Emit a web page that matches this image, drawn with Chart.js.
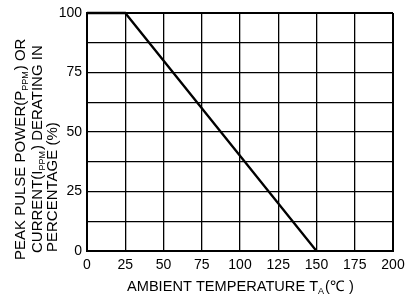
<!DOCTYPE html>
<html>
<head>
<meta charset="utf-8">
<script src="https://cdn.jsdelivr.net/npm/chart.js@4/dist/chart.umd.min.js"></script>
<style>
  html, body { margin: 0; padding: 0; background: #fff; }
  #wrap { width: 406px; height: 294px; position: relative; }
</style>
</head>
<body>
<div id="wrap"><canvas id="deratingChart"></canvas></div>
<script>
// derating curve
const tempC = [0, 25, 150];
const deratingPct = [100, 100, 0];

const xTicks = [0, 25, 50, 75, 100, 125, 150, 175, 200];
const yTicks = [0, 25, 50, 75, 100];

const FONT = "'Liberation Sans', Arial, sans-serif";

// titles have subscripts, so draw them by hand
const yTitleLines = [
  { x: 25, y: 260, parts: [["PEAK PULSE POWER(P"], ["PPM", true], [") OR"]] },
  { x: 42, y: 253, parts: [["CURRENT(I"], ["PPM", true], [") DERATING IN"]] },
  { x: 57, y: 252, parts: [["PERCENTAGE (%)"]] },
];
const xTitle = { x: 127, y: 291, size: 14.6, parts: [["AMBIENT TEMPERATURE T"], ["A", true], ["(\u2103 )"]] };

function drawParts(ctx, parts, size) {
  let pos = 0;
  parts.forEach(([txt, sub]) => {
    ctx.font = sub ? "9px " + FONT : (size || 15) + "px " + FONT;
    ctx.fillText(txt, pos, sub ? 3 : 0);
    pos += ctx.measureText(txt).width + (sub ? 1 : 0);
  });
}

const axisTitles = {
  id: "axisTitles",
  afterDraw(chart) {
    const ctx = chart.ctx;
    ctx.save();
    ctx.fillStyle = "#000";
    ctx.textBaseline = "alphabetic";
    ctx.textAlign = "left";
    yTitleLines.forEach((ln) => {
      ctx.save();
      ctx.translate(ln.x, ln.y);
      ctx.rotate(-Math.PI / 2);
      drawParts(ctx, ln.parts);
      ctx.restore();
    });
    ctx.translate(xTitle.x, xTitle.y);
    drawParts(ctx, xTitle.parts, xTitle.size);
    ctx.restore();
  },
};

const edgeWidth = (max) => (c) =>
  c.tick && (c.tick.value === 0 || c.tick.value === max) ? 2 : 1.3;

new Chart(document.getElementById("deratingChart"), {
  type: "scatter",
  data: {
    datasets: [
      {
        data: tempC.map((t, i) => ({ x: t, y: deratingPct[i] })),
        showLine: true,
        borderColor: "#000",
        borderWidth: 2.3,
        pointRadius: 0,
        clip: false,
      },
    ],
  },
  options: {
    responsive: true,
    maintainAspectRatio: false,
    animation: false,
    layout: { padding: { top: 13, right: 13, left: 0, bottom: 0 } },
    plugins: { legend: { display: false }, tooltip: { enabled: false } },
    scales: {
      x: {
        type: "linear",
        min: 0,
        max: 200,
        afterFit: (s) => {
          s.height = 43;
          s.paddingLeft = 0;
          s.paddingRight = 0;
        },
        afterBuildTicks: (s) => { s.ticks = xTicks.map((v) => ({ value: v })); },
        ticks: { color: "#000", padding: 6, font: { family: FONT, size: 14 } },
        grid: { color: "#000", lineWidth: edgeWidth(200), drawTicks: false },
        border: { color: "#000", width: 2 },
      },
      y: {
        min: 0,
        max: 100,
        afterFit: (s) => {
          s.width = 87;
          s.paddingTop = 0;
          s.paddingBottom = 0;
        },
        ticks: {
          stepSize: 12.5,
          color: "#000",
          padding: 5,
          font: { family: FONT, size: 14 },
          callback: (v) => (yTicks.includes(v) ? v : ""),
        },
        grid: { color: "#000", lineWidth: edgeWidth(100), drawTicks: false },
        border: { color: "#000", width: 2 },
      },
    },
  },
  plugins: [axisTitles],
});
</script>
</body>
</html>
